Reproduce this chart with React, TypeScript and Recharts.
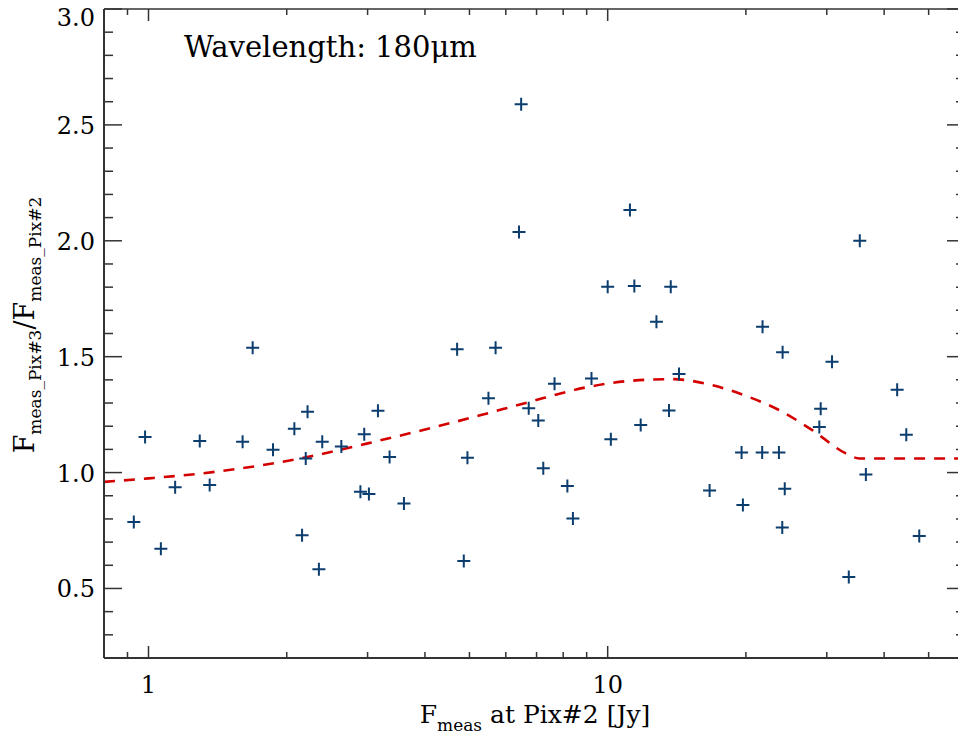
import React from "react";
import { ComposedChart, Scatter, Line, XAxis, YAxis } from "recharts";

// measured flux at Pix#2 [Jy] and ratio Pix#3 / Pix#2
const flux = [
  0.929, 0.983, 1.064, 1.143, 1.293, 1.359, 1.603, 1.686, 1.867, 2.078,
  2.16, 2.2, 2.22, 2.35, 2.39, 2.63, 2.894, 2.95, 3.02, 3.16,
  3.35, 3.6, 4.7, 4.86, 4.95, 5.5, 5.7, 6.48, 6.41, 6.73,
  7.06, 7.24, 7.66, 8.17, 8.4, 9.22, 10.0, 10.16, 11.18, 11.43,
  11.8, 12.77, 13.72, 13.6, 14.3, 16.67, 19.57, 19.7, 21.7, 21.74,
  23.6, 24.04, 24.3, 24.0, 28.9, 29.1, 30.8, 33.5, 35.4, 36.5,
  42.7, 44.7, 47.7,
];
const ratio = [
  0.787, 1.153, 0.671, 0.937, 1.136, 0.946, 1.133, 1.538, 1.098, 1.189,
  0.73, 1.061, 1.262, 0.583, 1.133, 1.113, 0.917, 1.165, 0.908, 1.267,
  1.067, 0.867, 1.532, 0.619, 1.064, 1.321, 1.538, 2.589, 2.038, 1.277,
  1.225, 1.019, 1.383, 0.942, 0.802, 1.406, 1.802, 1.144, 2.133, 1.805,
  1.205, 1.651, 1.802, 1.268, 1.425, 0.923, 1.087, 0.86, 1.087, 1.629,
  1.087, 1.519, 0.93, 0.763, 1.197, 1.275, 1.478, 0.55, 2.0, 0.992,
  1.357, 1.163, 0.726,
];

// red dashed fit curve
const fitFlux = [0.8, 1, 1.3, 2.14, 3, 5.3, 6.7, 9.1, 11.1, 13.8, 16.9, 20, 23.6, 27.9, 33, 35.3, 60];
const fitRatio = [0.96, 0.975, 0.996, 1.061, 1.126, 1.248, 1.303, 1.37, 1.395, 1.403, 1.377, 1.331, 1.27, 1.183, 1.083, 1.061, 1.061];

const xTicks = [0.9, 1, 2, 3, 4, 5, 6, 7, 8, 9, 10, 20, 30, 40, 50];
const xLabels = [1, 10];
const yTicks = [
  0.3, 0.4, 0.5, 0.6, 0.7, 0.8, 0.9, 1.0, 1.1, 1.2, 1.3, 1.4, 1.5, 1.6,
  1.7, 1.8, 1.9, 2.0, 2.1, 2.2, 2.3, 2.4, 2.5, 2.6, 2.7, 2.8, 2.9, 3.0,
];
const yLabels = [0.5, 1.0, 1.5, 2.0, 2.5, 3.0];

const points = flux.map((x, i) => ({ x, y: ratio[i] }));
const fit = fitFlux.map((x, i) => ({ x, y: fitRatio[i] }));

const FONT = "'DejaVu Serif', serif";
const AXIS = "#333";
const isMajorY = (v: number) => yLabels.some((l) => Math.abs(l - v) < 1e-6);

const BottomTick = (props: any) => {
  const { x, y, payload } = props;
  const major = xLabels.includes(payload.value);
  return (
    <g>
      <line x1={x} x2={x} y1={y} y2={y - (major ? 12 : 6)} stroke={AXIS} strokeWidth={1.5} />
      {major && (
        <text x={x} y={y + 35} textAnchor="middle" fontFamily={FONT} fontSize={24} fill="#000">
          {payload.value}
        </text>
      )}
    </g>
  );
};

const TopTick = (props: any) => {
  const { x, y, payload } = props;
  const major = xLabels.includes(payload.value);
  return <line x1={x} x2={x} y1={y} y2={y + (major ? 12 : 6)} stroke={AXIS} strokeWidth={1.5} />;
};

const LeftTick = (props: any) => {
  const { x, y, payload } = props;
  const major = isMajorY(payload.value);
  const ty = Math.max(y, 17);
  return (
    <g>
      <line x1={x} x2={x + (major ? 18 : 9)} y1={y} y2={y} stroke={AXIS} strokeWidth={1.5} />
      {major && (
        <text x={x - 9} y={ty + 9} textAnchor="end" fontFamily={FONT} fontSize={24} fill="#000">
          {payload.value.toFixed(1)}
        </text>
      )}
    </g>
  );
};

const RightTick = (props: any) => {
  const { x, y, payload } = props;
  const major = isMajorY(payload.value);
  return <line x1={x} x2={x - (major ? 18 : 9)} y1={y} y2={y} stroke={AXIS} strokeWidth={1.5} />;
};

const Plus = (props: any) => {
  const { cx, cy } = props;
  if (cx == null || cy == null) return null;
  return (
    <path
      d={`M${cx - 6.5},${cy}H${cx + 6.5}M${cx},${cy - 6.5}V${cy + 6.5}`}
      stroke="#0b3d6e"
      strokeWidth={2}
      fill="none"
    />
  );
};

export default function App() {
  return (
    <div style={{ position: "absolute", left: 0, top: 0, width: 958, height: 735, overflow: "hidden", background: "#fff" }}>
      <ComposedChart width={966} height={735} margin={{ top: 0, right: 0, bottom: 0, left: 0 }}>
        <XAxis
          xAxisId="bottom"
          dataKey="x"
          type="number"
          scale="log"
          domain={[0.8, 60]}
          allowDataOverflow
          ticks={xTicks}
          interval={0}
          height={77}
          tickSize={0}
          tickMargin={0}
          tick={<BottomTick />}
          axisLine={{ stroke: AXIS, strokeWidth: 2 }}
        />
        <XAxis
          xAxisId="top"
          orientation="top"
          dataKey="x"
          type="number"
          scale="log"
          domain={[0.8, 60]}
          allowDataOverflow
          ticks={xTicks}
          interval={0}
          height={9}
          tickSize={0}
          tickMargin={0}
          tick={<TopTick />}
          axisLine={{ stroke: AXIS, strokeWidth: 1.5 }}
        />
        <YAxis
          yAxisId="left"
          dataKey="y"
          type="number"
          domain={[0.2, 3]}
          allowDataOverflow
          ticks={yTicks}
          interval={0}
          width={104}
          tickSize={0}
          tickMargin={0}
          tick={<LeftTick />}
          axisLine={{ stroke: AXIS, strokeWidth: 2 }}
        />
        <YAxis
          yAxisId="right"
          orientation="right"
          dataKey="y"
          type="number"
          domain={[0.2, 3]}
          allowDataOverflow
          ticks={yTicks}
          interval={0}
          width={1}
          tickSize={0}
          tickMargin={0}
          tick={<RightTick />}
          axisLine={{ stroke: AXIS, strokeWidth: 1.5 }}
        />
        <Line
          xAxisId="top"
          yAxisId="right"
          data={fit}
          dataKey="y"
          type="monotone"
          stroke="#d40000"
          strokeWidth={2.6}
          strokeDasharray="11 9"
          dot={false}
          isAnimationActive={false}
        />
        <Scatter
          xAxisId="bottom"
          yAxisId="left"
          data={points}
          shape={<Plus />}
          isAnimationActive={false}
        />
      </ComposedChart>
      <svg
        width={958}
        height={735}
        style={{ position: "absolute", left: 0, top: 0, pointerEvents: "none" }}
        fontFamily={FONT}
      >
        <text x={184} y={57} fontSize={29} fill="#000">
          Wavelength: 180μm
        </text>
        <text x={535} y={723} textAnchor="middle" fontSize={25} fill="#000">
          F<tspan fontSize={17} dy={8}>meas</tspan>
          <tspan dy={-8}> at Pix#2 [Jy]</tspan>
        </text>
        <text transform="translate(34, 325) rotate(-90)" textAnchor="middle" fontSize={27} fill="#000">
          F<tspan fontSize={17} dy={7}>meas_Pix#3</tspan>
          <tspan dy={-7}>/F</tspan>
          <tspan fontSize={17} dy={7}>meas_Pix#2</tspan>
        </text>
      </svg>
    </div>
  );
}
